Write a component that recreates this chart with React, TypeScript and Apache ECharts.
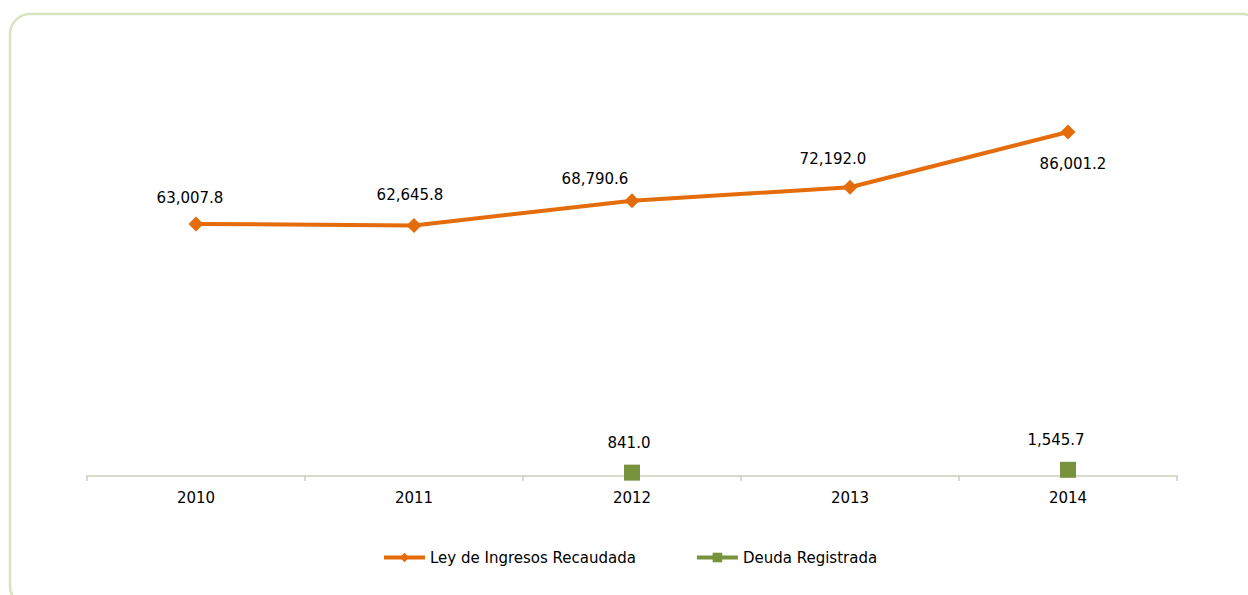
import React, { useEffect, useRef } from "react";
import * as echarts from "echarts";

const categories = ["2010", "2011", "2012", "2013", "2014"];
const leyIngresos = [63007.8, 62645.8, 68790.6, 72192.0, 86001.2];
const deudaRegistrada = [null, null, 841.0, null, 1545.7];
const seriesNames = ["Ley de Ingresos Recaudada", "Deuda Registrada"];
// label nudges (Excel-placed labels)
const leyLabelOffsets = [[-6, 1], [-4, -3], [-37, 5], [-17, -1], [5, 5]];
const deudaLabelOffsets = [null, null, [-3, -2], null, [-12, -2]];

const FONT = "DejaVu Sans";

function fmt(v: number) {
  return v.toLocaleString("en-US", { minimumFractionDigits: 1, maximumFractionDigits: 1 });
}

export default function App() {
  const ref = useRef<HTMLDivElement>(null);
  useEffect(() => {
    if (!ref.current) return;
    const chart = echarts.init(ref.current, undefined, { renderer: "svg" });
    const leyData = leyIngresos.map((v, i) => ({
      value: v,
      label:
        i === leyIngresos.length - 1
          ? { position: "bottom", distance: 12, offset: leyLabelOffsets[i] }
          : { offset: leyLabelOffsets[i] },
    }));
    const deudaData = deudaRegistrada.map((v, i) =>
      v == null ? null : { value: v, label: { offset: deudaLabelOffsets[i] } }
    );
    chart.setOption({
      animation: false,
      backgroundColor: "#ffffff",
      textStyle: { fontFamily: FONT },
      graphic: [
        {
          type: "rect",
          shape: { x: 10, y: 14, width: 1252, height: 592, r: 20 },
          style: { fill: "none", stroke: "#d7e4bd", lineWidth: 2.5 },
          z: -1,
        },
      ],
      grid: { left: 87, right: 71, top: 76, bottom: 119, containLabel: false },
      legend: {
        left: 377,
        top: 545,
        itemGap: 59,
        itemWidth: 41,
        itemHeight: 12,
        lineStyle: { width: 4 },
        textStyle: { fontFamily: FONT, fontSize: 15, color: "#000000" },
        data: seriesNames,
      },
      xAxis: {
        type: "category",
        data: categories,
        boundaryGap: true,
        axisLine: { lineStyle: { color: "#cbcdb9", width: 1.5 } },
        axisTick: { show: true, length: 5, lineStyle: { color: "#cbcdb9", width: 1.5 } },
        axisLabel: { fontFamily: FONT, fontSize: 15, color: "#000000", margin: 14 },
        splitLine: { show: false },
      },
      yAxis: {
        type: "value",
        min: 0,
        max: 100000,
        show: false,
        splitLine: { show: false },
      },
      series: [
        {
          name: seriesNames[0],
          type: "line",
          data: leyData,
          symbol: "diamond",
          symbolSize: 15,
          lineStyle: { color: "#e46c0a", width: 4 },
          itemStyle: { color: "#e46c0a" },
          label: {
            show: true,
            position: "top",
            distance: 12,
            fontFamily: FONT,
            fontSize: 15,
            color: "#000000",
            formatter: (p: any) => fmt(p.value),
          },
          z: 3,
        },
        {
          name: seriesNames[1],
          type: "line",
          data: deudaData,
          connectNulls: false,
          symbol: "rect",
          symbolSize: 16,
          lineStyle: { color: "#77933c", width: 4 },
          itemStyle: { color: "#77933c" },
          label: {
            show: true,
            position: "top",
            distance: 12,
            fontFamily: FONT,
            fontSize: 15,
            color: "#000000",
            formatter: (p: any) => fmt(p.value),
          },
          z: 4,
        },
      ],
    });
    return () => chart.dispose();
  }, []);
  return (
    <div
      ref={ref}
      style={{ position: "absolute", left: 0, top: 0, width: 1248, height: 595 }}
    />
  );
}
